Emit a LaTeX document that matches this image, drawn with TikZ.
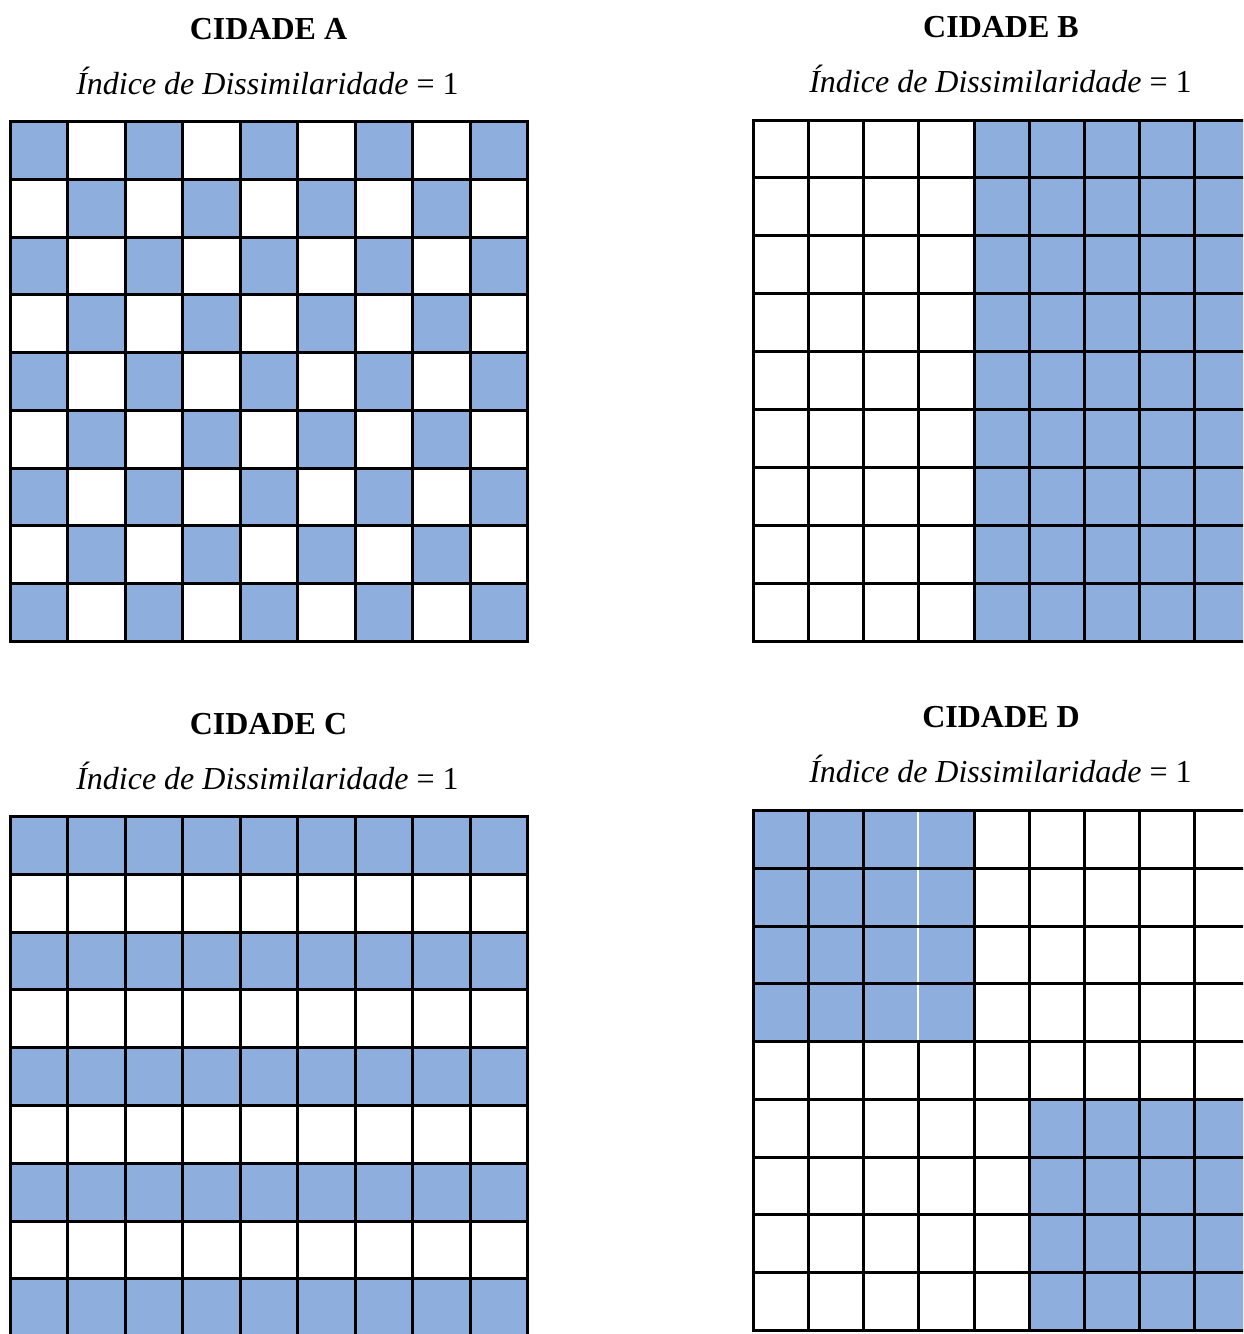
\documentclass[tikz,border=0pt]{standalone}
\usepackage{fontspec}
\setmainfont{Liberation Serif}
\definecolor{cellblue}{RGB}{142,174,222}
\begin{document}
\begin{tikzpicture}[x=1pt,y=-1pt,
  gridline/.style={line width=3pt,black,line cap=rect},
  bluecell/.style={fill=cellblue},
  titletext/.style={font=\fontsize{32}{38}\selectfont\bfseries,anchor=base,inner sep=0pt},
  subtext/.style={font=\fontsize{32}{38}\selectfont,anchor=base,inner sep=0pt}]
\useasboundingbox (0,0) rectangle (1243,1334);
\fill[white] (0,0) rectangle (1243,1334);
\clip (0,0) rectangle (1243,1334);

% ---------- texts ----------
\node[titletext] (tA) at (268.5,39.5) {CIDADE A};
\node[subtext] (sA) at (267.5,94) {\textit{Índice de Dissimilaridade} = 1};
\node[titletext] (tB) at (1001,37) {CIDADE B};
\node[subtext] (sB) at (1000.5,92) {\textit{Índice de Dissimilaridade} = 1};
\node[titletext] (tC) at (268.5,734.5) {CIDADE C};
\node[subtext] (sC) at (267.5,789) {\textit{Índice de Dissimilaridade} = 1};
\node[titletext] (tD) at (1001,727.5) {CIDADE D};
\node[subtext] (sD) at (1000.5,782.5) {\textit{Índice de Dissimilaridade} = 1};

% ---------- grid A (checkerboard) ----------
\def\gx{10.5}\def\gy{121.5}\def\gw{57.444}\def\gh{57.778}
\foreach \i in {0,...,8}{\foreach \j in {0,...,8}{
  \pgfmathtruncatemacro\s{mod(\i+\j,2)==0}
  \ifnum\s=1 \fill[bluecell] (\gx+\j*\gw,\gy+\i*\gh) rectangle ++(\gw,\gh);\fi
}}
\foreach \k in {0,...,9}{
  \draw[gridline] (\gx+\k*\gw,\gy) -- (\gx+\k*\gw,\gy+9*\gh);
  \draw[gridline] (\gx,\gy+\k*\gh) -- (\gx+9*\gw,\gy+\k*\gh);
}

% ---------- grid B (right half blue) ----------
\def\gx{753.5}\def\gy{120}\def\gw{55.125}\def\gh{57.944}
\fill[bluecell] (\gx+4*\gw,\gy) rectangle (\gx+9*\gw,\gy+9*\gh);
\foreach \k in {0,...,9}{
  \draw[gridline] (\gx+\k*\gw,\gy) -- (\gx+\k*\gw,\gy+9*\gh);
  \draw[gridline] (\gx,\gy+\k*\gh) -- (\gx+9*\gw,\gy+\k*\gh);
}

% ---------- grid C (striped rows) ----------
\def\gx{10.5}\def\gy{816.5}\def\gw{57.444}\def\gh{57.8}
\foreach \i in {0,2,4,6,8}{
  \fill[bluecell] (\gx,\gy+\i*\gh) rectangle ++(9*\gw,\gh);
}
\foreach \k in {0,...,9}{
  \draw[gridline] (\gx+\k*\gw,\gy) -- (\gx+\k*\gw,\gy+9*\gh);
  \draw[gridline] (\gx,\gy+\k*\gh) -- (\gx+9*\gw,\gy+\k*\gh);
}

% ---------- grid D (two corner blocks) ----------
\def\gx{753.5}\def\gy{810.5}\def\gw{55.125}\def\gh{57.778}
\fill[bluecell] (\gx,\gy) rectangle (\gx+4*\gw,\gy+4*\gh);
\fill[bluecell] (\gx+5*\gw,\gy+5*\gh) rectangle (\gx+9*\gw,\gy+9*\gh);
\foreach \k in {0,...,9}{
  \draw[gridline] (\gx+\k*\gw,\gy) -- (\gx+\k*\gw,\gy+9*\gh);
  \draw[gridline] (\gx,\gy+\k*\gh) -- (\gx+9*\gw,\gy+\k*\gh);
}
% thin white seam inside the upper-left block
\foreach \i in {0,...,3}{
  \fill[cellblue] (\gx+3*\gw-1.6,\gy+\i*\gh+1.5) rectangle (\gx+3*\gw+1.6,\gy+\i*\gh+\gh-1.5);
  \fill[white] (\gx+3*\gw-1.4,\gy+\i*\gh+1.5) rectangle (\gx+3*\gw-0.2,\gy+\i*\gh+\gh-1.5);
}
\end{tikzpicture}
\end{document}
